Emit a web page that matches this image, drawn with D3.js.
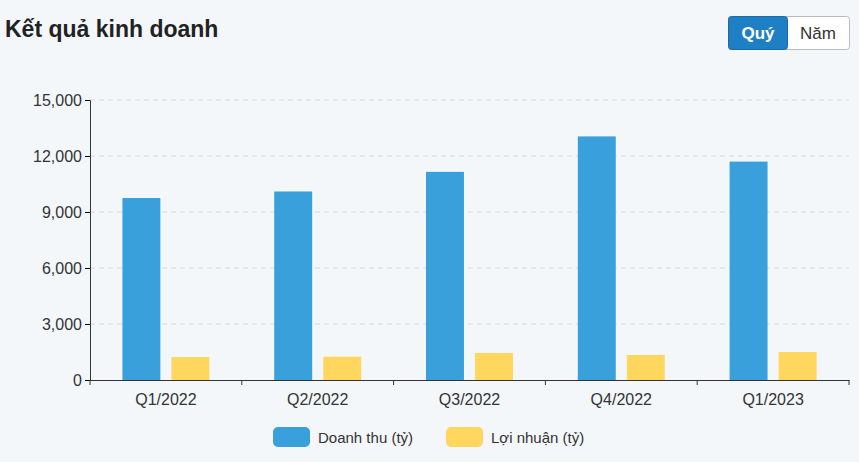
<!DOCTYPE html>
<html><head><meta charset="utf-8">
<script src="https://cdn.jsdelivr.net/npm/d3@7"></script>
<style>body{margin:0;background:#f4f7fa;font-family:"Liberation Sans",Arial,sans-serif}</style>
</head><body><svg id="c" width="859" height="462"></svg>
<script>
const categories=["Q1/2022","Q2/2022","Q3/2022","Q4/2022","Q1/2023"];
const revenue=[9750,10100,11150,13050,11700];
const profit=[1230,1250,1450,1340,1500];
const yTicks=[0,3000,6000,9000,12000,15000];
const seriesNames=["Doanh thu (tỷ)","Lợi nhuận (tỷ)"];
const colors=["#3aa0db","#ffd75e"];

const svg=d3.select("#c");
svg.append("rect").attr("width",859).attr("height",462).attr("fill","#f4f7fa");
svg.append("text").attr("x",5).attr("y",37).attr("font-size",23).attr("font-weight","bold").attr("fill","#222").text("Kết quả kinh doanh");
svg.append("rect").attr("x",728.5).attr("y",16.5).attr("width",121).attr("height",33).attr("rx",3).attr("fill","#fff").attr("stroke","#bbb");
svg.append("rect").attr("x",728.5).attr("y",16.5).attr("width",59).attr("height",33).attr("rx",3).attr("fill","#1f7fc4").attr("stroke","#1a6aa5");
svg.append("text").attr("x",758).attr("y",39).attr("text-anchor","middle").attr("font-size",17).attr("font-weight","bold").attr("fill","#fff").text("Quý");
svg.append("text").attr("x",818).attr("y",39).attr("text-anchor","middle").attr("font-size",17).attr("fill","#333").text("Năm");

const x=d3.scaleBand().domain(categories).range([90,849]);
const y=d3.scaleLinear().domain([0,15000]).range([380,100]);
const bw=x.bandwidth()*0.25, gap=x.bandwidth()*0.073;
const off=k=>(x.bandwidth()-2*bw-gap)/2+k*(bw+gap);

svg.append("g").selectAll("line").data(yTicks.slice(1)).join("line")
 .attr("x1",90).attr("x2",849).attr("y1",d=>y(d)).attr("y2",d=>y(d))
 .attr("stroke","#d5d9de").attr("stroke-dasharray","5,4");
const ya=svg.append("g").attr("transform","translate(90,0)").call(d3.axisLeft(y).tickValues(yTicks).tickFormat(d3.format(",")).tickSize(5));
ya.selectAll("text").attr("font-size",16).attr("fill","#333").attr("font-family","Liberation Sans, Arial");
ya.select(".domain").attr("stroke","#333");
const xa=svg.append("g").attr("transform","translate(0,380)").call(d3.axisBottom(x).tickSize(0).tickPadding(14));
xa.selectAll("text").attr("font-size",16).attr("fill","#333").attr("font-family","Liberation Sans, Arial");
xa.select(".domain").attr("stroke","#333");
svg.append("g").selectAll("line").data(d3.range(categories.length+1)).join("line")
 .attr("x1",i=>90+i*x.step()).attr("x2",i=>90+i*x.step()).attr("y1",380).attr("y2",385).attr("stroke","#333");

[revenue,profit].forEach((s,k)=>{
 svg.append("g").selectAll("rect").data(s).join("rect")
  .attr("x",(d,i)=>x(categories[i])+off(k)).attr("width",bw)
  .attr("y",d=>y(d)).attr("height",d=>380-y(d)).attr("fill",colors[k]);
});
const lx=[273,446];
seriesNames.forEach((n,k)=>{
 svg.append("rect").attr("x",lx[k]).attr("y",427).attr("width",37).attr("height",20).attr("rx",5).attr("fill",colors[k]);
 svg.append("text").attr("x",lx[k]+45).attr("y",443).attr("font-size",15).attr("fill","#333").text(n);
});
</script></body></html>
